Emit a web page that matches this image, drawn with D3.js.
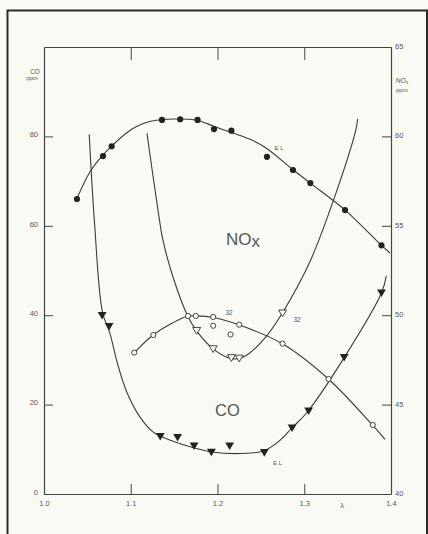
<!DOCTYPE html>
<html><head><meta charset="utf-8">
<script src="https://cdn.jsdelivr.net/npm/d3@7"></script>
<style>
html,body{margin:0;padding:0;background:#fafaf4;}
svg{display:block;}
text{font-family:"Liberation Sans","Helvetica",Arial,sans-serif;fill:#555;}
</style></head>
<body>
<script>
// ---- data ----
// NOx, EL (filled circles) – right axis
const lambdaNoxEL = [1.038,1.068,1.078,1.136,1.157,1.177,1.196,1.216,1.257,1.287,1.307,1.347,1.389];
const noxEL       = [56.5,58.9,59.45,60.92,60.96,60.92,60.41,60.32,58.86,58.12,57.39,55.88,53.91];
// CO, EL (filled triangles) – left axis
const lambdaCoEL = [1.067,1.075,1.134,1.154,1.173,1.193,1.214,1.254,1.286,1.305,1.346,1.389];
const coEL       = [39.9,37.4,12.8,12.6,10.7,9.3,10.7,9.2,14.7,18.5,30.5,44.9];
// NOx, fuel 32 (open circles) – right axis
const lambdaNox32 = [1.104,1.126,1.166,1.175,1.195,1.195,1.215,1.225,1.275,1.328,1.379];
const nox32       = [47.91,48.89,49.96,49.96,49.90,49.41,48.92,49.47,48.41,46.43,43.86];
// CO, fuel 32 (open triangles) – left axis
const lambdaCo32 = [1.176,1.195,1.216,1.225,1.275];
const co32       = [36.5,32.4,30.4,30.3,40.4];

// fitted curves drawn on the original: [lambda, value]
const noxELCurve = [[1.0376,56.48],[1.0529,58.01],[1.0675,58.94],[1.0778,59.45],[1.0951,60.19],[1.1066,60.55],[1.1218,60.83],[1.1506,60.97],[1.1770,60.89],[1.1966,60.55],[1.2157,60.22],[1.2368,59.85],[1.2563,59.34],[1.2874,58.12],[1.3069,57.39],[1.3471,55.88],[1.3885,53.93],[1.3989,53.48]];
const coELCurve = [[1.0521,80.5],[1.0584,60.2],[1.0674,40.7],[1.0759,36.0],[1.0851,28.9],[1.0954,22.8],[1.1103,17.3],[1.1256,13.9],[1.1448,12.1],[1.1736,10.3],[1.1934,9.4],[1.2330,9.1],[1.2537,9.7],[1.2713,11.9],[1.2859,14.8],[1.3038,18.4],[1.3460,30.5],[1.3889,44.9],[1.3946,48.8]];
const nox32Curve = [[1.1043,47.91],[1.1257,48.89],[1.1486,49.58],[1.1655,49.94],[1.1759,49.96],[1.1954,49.87],[1.2253,49.45],[1.2753,48.39],[1.3279,46.43],[1.3785,43.86],[1.3931,43.06]];
const co32Curve = [[1.1187,80.7],[1.1314,63.5],[1.1371,56.8],[1.1486,48.6],[1.1659,39.7],[1.1759,36.5],[1.1954,32.4],[1.2138,30.4],[1.2247,30.3],[1.2368,31.5],[1.2560,35.2],[1.2751,40.6],[1.3057,51.6],[1.3322,64.9],[1.3594,81.4],[1.3615,83.9]];

const xTicks = [1.0,1.1,1.2,1.3,1.4];
const coTicks = [0,20,40,60,80];
const noxTicks = [40,45,50,55,60,65];

// ---- drawing ----
const W = 428, H = 534;
const svg = d3.select("body").append("svg").attr("width",W).attr("height",H);
svg.append("rect").attr("width",W).attr("height",H).attr("fill","#fafaf4");

// outer frame
svg.append("path").attr("d","M7.5,540V10.5H427V540").attr("fill","none").attr("stroke","#2a2a2a").attr("stroke-width",2);

const x = d3.scaleLinear().domain([1.0,1.4]).range([44,391]);
const yCO = d3.scaleLinear().domain([0,100]).range([494,47]);
const yNOx = d3.scaleLinear().domain([40,65]).range([494,47]);

const axisColor = "#444";
function style(g){
  g.selectAll("path.domain").attr("stroke",axisColor).attr("stroke-width",1.2);
  g.selectAll(".tick line").attr("stroke",axisColor).attr("stroke-width",1);
  g.selectAll("text").attr("font-size","7.5px").attr("fill","#555").attr("font-family","Liberation Sans, Arial, sans-serif");
}
// bottom axis
svg.append("g").attr("transform","translate(0,494)")
  .call(d3.axisBottom(x).tickValues(xTicks).tickFormat(d3.format(".1f")).tickSize(-10).tickSizeOuter(0).tickPadding(7))
  .call(style);
// top axis
svg.append("g").attr("transform","translate(0,47)")
  .call(d3.axisTop(x).tickValues([1.1,1.2,1.3]).tickFormat("").tickSize(-13).tickSizeOuter(0))
  .call(style);
// left axis
svg.append("g").attr("transform","translate(44,0)")
  .call(d3.axisLeft(yCO).tickValues(coTicks).tickSize(-9).tickSizeOuter(0).tickPadding(6))
  .call(style)
  .call(g=>g.selectAll("text").attr("dy","0.05em"));
// right axis
svg.append("g").attr("transform","translate(391,0)")
  .call(d3.axisRight(yNOx).tickValues(noxTicks).tickSize(-9).tickSizeOuter(0).tickPadding(4))
  .call(style)
  .call(g=>g.selectAll("text").attr("dy","0.2em"));

// axis titles
const small = (t,xx,yy,size,anchor)=>svg.append("text").attr("x",xx).attr("y",yy).attr("font-size",size+"px").attr("text-anchor",anchor||"middle").text(t);
small("CO",35,73.5,6.5);
small("ppm",32,79.5,6);
const nt = svg.append("text").attr("x",396).attr("y",83).attr("font-size","6.5px");
nt.append("tspan").text("NO");
nt.append("tspan").attr("font-size","5px").attr("dy","1").text("x");
small("ppm",396,92,6,"start");
small("λ",342,507.5,7.5);

// curves
const line = (ys)=>d3.line().x(d=>x(d[0])).y(d=>ys(d[1])).curve(d3.curveCatmullRom.alpha(0.5));
const curveStyle = p=>p.attr("fill","none").attr("stroke","#3a3a3a").attr("stroke-width",1.1);
svg.append("path").datum(noxELCurve).attr("d",line(yNOx)).call(curveStyle);
svg.append("path").datum(coELCurve).attr("d",line(yCO)).call(curveStyle);
svg.append("path").datum(nox32Curve).attr("d",line(yNOx)).call(curveStyle);
svg.append("path").datum(co32Curve).attr("d",line(yCO)).call(curveStyle);

// markers
const triDown = d3.symbol().type({draw(ctx,size){const s=Math.sqrt(size);const h=s*0.85;ctx.moveTo(-s/2,-h/2);ctx.lineTo(s/2,-h/2);ctx.lineTo(0,h/2);ctx.closePath();}});
svg.append("g").selectAll("circle").data(d3.zip(lambdaNoxEL,noxEL)).join("circle")
  .attr("cx",d=>x(d[0])).attr("cy",d=>yNOx(d[1])).attr("r",3.1).attr("fill","#222");
svg.append("g").selectAll("path").data(d3.zip(lambdaCoEL,coEL)).join("path")
  .attr("transform",d=>`translate(${x(d[0])},${yCO(d[1])})`).attr("d",triDown.size(78)).attr("fill","#222");
svg.append("g").selectAll("circle").data(d3.zip(lambdaNox32,nox32)).join("circle")
  .attr("cx",d=>x(d[0])).attr("cy",d=>yNOx(d[1])).attr("r",2.6).attr("fill","#fafaf4").attr("stroke","#333").attr("stroke-width",0.9);
svg.append("g").selectAll("path").data(d3.zip(lambdaCo32,co32)).join("path")
  .attr("transform",d=>`translate(${x(d[0])},${yCO(d[1])})`).attr("d",triDown.size(64)).attr("fill","#fafaf4").attr("stroke","#333").attr("stroke-width",0.9);

// in-plot labels
const nox = svg.append("text").attr("x",226).attr("y",245).attr("font-size","17px").attr("fill","#444");
nox.append("tspan").text("NO");
nox.append("tspan").attr("dy","2").text("x");
svg.append("text").attr("x",215).attr("y",416).attr("font-size","16.5px").attr("fill","#444").text("CO");
small("E L",279,149.5,6);
small("E L",277.5,465,6);
small("32",229,315,6.5);
small("32",297,321.5,6.5);
</script>
</body></html>
